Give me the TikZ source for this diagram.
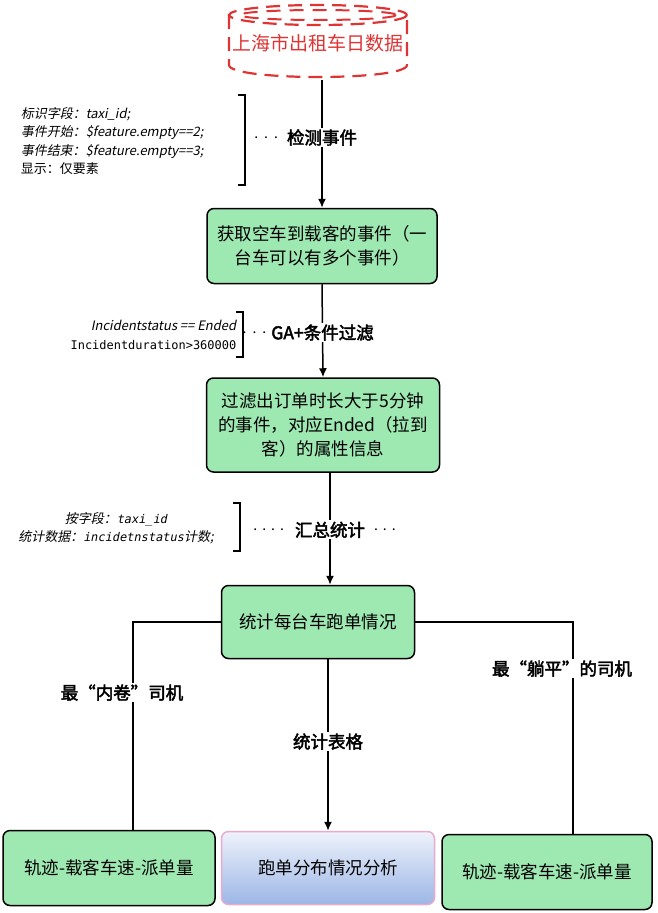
\documentclass[tikz,border=0pt]{standalone}
\usepackage{fontspec}
\setmainfont{Noto Sans CJK SC}[AutoFakeBold=2.5,AutoFakeSlant=0.2]
\setmonofont{DejaVu Sans Mono}[AutoFakeSlant=0.2,Scale=0.92]
\usetikzlibrary{positioning,arrows.meta,calc}
\tikzset{>={Latex[length=9pt,width=8pt]}}
\definecolor{boxgreen}{RGB}{158,232,178}
\definecolor{dbred}{RGB}{222,52,52}
\definecolor{bluetop}{RGB}{238,242,251}
\definecolor{bluebot}{RGB}{156,182,230}
\definecolor{pinkline}{RGB}{232,170,205}

\begin{document}
\begin{tikzpicture}[x=1pt, y=-1pt, line width=1.5pt,
    stepbox/.style={draw, rounded corners=7pt, fill=boxgreen, align=center,
        inner sep=0pt, font=\fontsize{17.5}{24}\selectfont},
    note/.style={inner sep=0pt, font=\fontsize{13}{18.5}\selectfont},
    tag/.style={fill=white, inner sep=1.5pt, font=\bfseries\fontsize{17.5}{20}\selectfont},
    dots/.style={inner sep=0pt, font=\fontsize{14}{14}\selectfont},
    bracket/.style={line width=1.4pt}]
        \useasboundingbox (0,0) rectangle (657,913);

        % data source (dashed cylinder)
        \node[text=dbred, inner sep=0pt, font=\fontsize{19}{20}\selectfont] (db) at (318,43) {上海市出租车日数据};
        \draw[dbred, line width=2.2pt, dash pattern=on 14pt off 8pt] (318,15) ellipse [x radius=89, y radius=10];
        \draw[dbred, line width=2pt, dash pattern=on 14pt off 9pt] (318,15) ellipse [x radius=78, y radius=5];
        \draw[dbred, line width=2.2pt, dash pattern=on 14pt off 8pt] (229,15) -- (229,65) .. controls (229,81) and (407,81) .. (407,65) -- (407,15);
        \coordinate (dbout) at (322,80);

        % process boxes
        \node[stepbox, minimum width=230pt, minimum height=75pt] (get) at (322,246) {获取空车到载客的事件（一\\台车可以有多个事件）};
        \node[stepbox, minimum width=233pt, minimum height=94pt] (filt) at (323,425) {过滤出订单时长大于5分钟\\的事件，对应Ended（拉到\\客）的属性信息};
        \node[stepbox, minimum width=193pt, minimum height=73pt] (sum) at (318,622) {统计每台车跑单情况};
        \node[stepbox, minimum width=212pt, minimum height=75pt] (busy) at (109,868) {轨迹-载客车速-派单量};
        \node[stepbox, draw=pinkline, top color=bluetop, bottom color=bluebot, minimum width=213pt, minimum height=73pt] (chart) at (328,868) {跑单分布情况分析};
        \node[stepbox, minimum width=210pt, minimum height=75pt] (idle) at (547,872) {轨迹-载客车速-派单量};

        % main flow
        \draw[->] (dbout) -- node[tag, pos=0.45] (detect) {检测事件} (get.north);
        \draw[->] (get.south) -- node[tag, pos=0.52] (ga) {GA+条件过滤} (filt.north);
        \draw[->] ([xshift=7pt]filt.south) -- node[tag, pos=0.51] (agg) {汇总统计} ([xshift=7pt]filt.south |- sum.north);
        \draw[->] (sum.south -| chart.north) -- node[tag, pos=0.48] (table) {统计表格} (chart.north);
        \draw (sum.west) -| node[tag, pos=0.67, xshift=-11pt] (inv) {最“内卷”司机} ([xshift=24pt]busy.north);
        \draw (sum.east) -| node[tag, pos=0.61, xshift=-11pt] (flat) {最“躺平”的司机} ([xshift=26pt]idle.north);

        % rule notes with brackets
        \node[note, anchor=west, align=left] (rule1) at (20,141) {\textit{标识字段：taxi\_id;}\\\textit{事件开始：\$feature.empty==2;}\\\textit{事件结束：\$feature.empty==3;}\\显示：仅要素};
        \draw[bracket] (238,95) -- (245,95) -- (245,185) -- (238,185);
        \node[dots, left=6pt of detect] {.\hspace{6pt}.\hspace{6pt}.};

        \node[note, anchor=east, align=right] (rule2) at (237,335) {\textit{Incidentstatus == Ended}\\\texttt{Incidentduration>360000}};
        \draw[bracket] (236,312) -- (243,312) -- (243,357) -- (236,357);
        \node[dots, left=2pt of ga] {.\hspace{6pt}.\hspace{6pt}.};

        \node[note, align=center] (rule3) at (116,528) {\textit{按字段：\texttt{taxi\_id}}\\\textit{统计数据：\texttt{incidetnstatus}计数;}};
        \draw[bracket] (233,503) -- (240,503) -- (240,551) -- (233,551);
        \node[dots, left=8pt of agg] {.\hspace{5pt}.\hspace{5pt}.\hspace{5pt}.};
        \node[dots, right=6pt of agg] {.\hspace{5pt}.\hspace{5pt}.};
\end{tikzpicture}
\end{document}
